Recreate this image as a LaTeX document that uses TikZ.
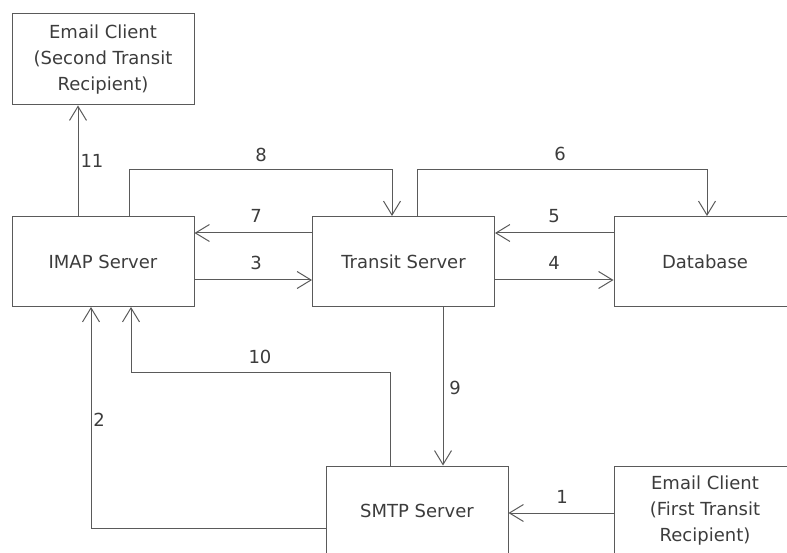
\documentclass[tikz,border=0pt]{standalone}
\usepackage{fontspec}
\setmainfont{DejaVu Sans}
\usetikzlibrary{arrows.meta}
\definecolor{linec}{RGB}{90,90,90}
\definecolor{textc}{RGB}{60,60,60}
\begin{document}
\begin{tikzpicture}[x=1pt,y=-1pt,
  box/.style={draw=linec,line width=1pt,minimum width=182pt,minimum height=90pt,
    inner sep=0pt,text=textc,font=\fontsize{18}{26}\selectfont,align=center},
  conn/.style={draw=linec,line width=1pt,-{Straight Barb[length=14pt,width=17pt,line width=1pt]}},
  lbl/.style={text=textc,font=\fontsize{18}{21}\selectfont,inner sep=0pt}]
\useasboundingbox (0,0) rectangle (787,553);
\clip (0,0) rectangle (787,553);
\node[box,minimum height=91pt] (ec2) at (103,59.5) {Email Client\\(Second Transit\\Recipient)};
\node[box] (imap) at (103,261.5) {IMAP Server};
\node[box] (transit) at (403.5,261.5) {Transit Server};
\node[box] (db) at (705,261.5) {Database};
\node[box] (smtp) at (417,511) {SMTP Server};
\node[box] (ec1) at (705,511) {Email Client\\(First Transit\\Recipient)};
% 1
\draw[conn] (ec1.west |- 0,513) -- (smtp.east |- 0,513);
\node[lbl] (l1) at (562,497) {1};
% 2
\draw[conn] (smtp.west |- 0,528) -- (91,528) -- (91,0 |- imap.south);
\node[lbl] (l2) at (99,420) {2};
% 3
\draw[conn] (imap.east |- 0,280) -- (transit.west |- 0,280);
\node[lbl] (l3) at (256,263) {3};
% 4
\draw[conn] (transit.east |- 0,280) -- (db.west |- 0,280);
\node[lbl] (l4) at (554,263) {4};
% 5
\draw[conn] (db.west |- 0,233) -- (transit.east |- 0,233);
\node[lbl] (l5) at (554,216) {5};
% 6
\draw[conn] (417,0 |- transit.north) -- (417,170) -- (707,170) -- (707,0 |- db.north);
\node[lbl] (l6) at (560,154) {6};
% 7
\draw[conn] (transit.west |- 0,233) -- (imap.east |- 0,233);
\node[lbl] (l7) at (256,216) {7};
% 8
\draw[conn] (129,0 |- imap.north) -- (129,170) -- (392,170) -- (392,0 |- transit.north);
\node[lbl] (l8) at (261,155) {8};
% 9
\draw[conn] (443,0 |- transit.south) -- (443,0 |- smtp.north);
\node[lbl] (l9) at (455,388) {9};
% 10
\draw[conn] (390,0 |- smtp.north) -- (390,372) -- (131,372) -- (131,0 |- imap.south);
\node[lbl] (l10) at (260,357) {10};
% 11
\draw[conn] (78,0 |- imap.north) -- (78,0 |- ec2.south);
\node[lbl] (l11) at (92,161) {11};
\end{tikzpicture}
\end{document}
